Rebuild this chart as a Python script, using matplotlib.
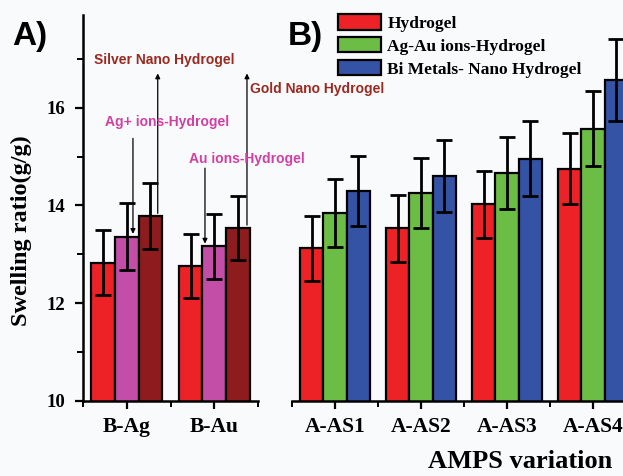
import matplotlib.pyplot as plt
import numpy as np

# panel A data
catsA = ['B-Ag', 'B-Au']
hydA = [12.83, 12.76]
hydA_err = [0.66, 0.65]
ionsA = [13.36, 13.16]
ionsA_err = [0.68, 0.66]
nanoA = [13.78, 13.54]
nanoA_err = [0.67, 0.66]

# panel B data
catsB = ['A-AS1', 'A-AS2', 'A-AS3', 'A-AS4']
hydB = [13.12, 13.53, 14.02, 14.75]
hydB_err = [0.66, 0.68, 0.68, 0.73]
ionsB = [13.84, 14.25, 14.66, 15.57]
ionsB_err = [0.70, 0.72, 0.74, 0.77]
bimB = [14.29, 14.60, 14.96, 16.56]
bimB_err = [0.72, 0.74, 0.76, 0.84]

bg = '#f9fafc'
red = '#ec2227'
pink = '#c34ea8'
dred = '#8e1b1d'
green = '#6cbd45'
blue = '#3553a5'
txt_brown = '#9a2a20'
txt_pink = '#d23fa3'

plt.rcParams['font.family'] = 'Liberation Serif'
plt.rcParams['font.weight'] = 'bold'

fig = plt.figure(figsize=(6.23, 4.76), dpi=100, facecolor=bg)
axB = fig.add_axes([292/623, 1-400.7/476, 344/623, (400.7-15)/476])
axA = fig.add_axes([83/623, 1-400.7/476, 175/623, (400.7-15)/476], sharey=axB)
axA.set_zorder(3)

w = 0.27
ekw = dict(elinewidth=2, capthick=2, ecolor='black')


def draw(ax, n, series, colors):
    x = np.arange(n) + 0.5
    bars = []
    for k, (vals, errs) in enumerate(series):
        b = ax.bar(x + (k - 1) * w, vals, w, yerr=errs, color=colors[k],
                   edgecolor='black', linewidth=1.6, capsize=6, error_kw=ekw)
        bars.append(b)
    ax.patch.set_visible(False)
    ax.set_xlim(0, n)
    ax.set_xticks(x)
    ax.set_xticks(np.arange(n + 1), minor=True)
    for s in ['top', 'right']:
        ax.spines[s].set_visible(False)
    ax.spines['bottom'].set_linewidth(1.8)
    ax.tick_params(axis='x', which='major', length=6, width=1.6, labelsize=15.5, pad=6)
    ax.tick_params(axis='x', which='minor', length=4, width=1.4)
    return bars


draw(axA, 2, [(hydA, hydA_err), (ionsA, ionsA_err), (nanoA, nanoA_err)], [red, pink, dred])
bars = draw(axB, 4, [(hydB, hydB_err), (ionsB, ionsB_err), (bimB, bimB_err)], [red, green, blue])
axA.set_xticklabels(catsA)
axB.set_xticklabels(catsB)

axA.set_ylim(10, 17.9)
axA.set_yticks([10, 12, 14, 16])
axA.set_yticks([11, 13, 15, 17], minor=True)
axA.spines['left'].set_linewidth(1.8)
axA.tick_params(axis='y', which='major', length=6, width=1.6, labelsize=13.5, pad=7)
axA.tick_params(axis='y', which='minor', length=4, width=1.4)
axA.set_ylabel('Swelling ratio(g/g)', fontsize=17.5, fontweight='bold')
axA.yaxis.set_label_coords(-0.29, 0.44)

axB.spines['left'].set_visible(False)
axB.tick_params(axis='y', which='both', left=False, labelleft=False)

# annotations in panel A
sans = 'Liberation Sans'
arr = dict(arrowstyle='-|>', color='black', lw=0.9, mutation_scale=7)
axA.annotate('', xy=(0.854, 16.76), xytext=(0.854, nanoA[0]), arrowprops=arr)
axA.annotate('', xy=(1.874, 16.76), xytext=(1.874, nanoA[1]), arrowprops=arr)
axA.annotate('', xy=(0.571, ionsA[0]), xytext=(0.571, 15.43), arrowprops=arr)
axA.annotate('', xy=(1.394, ionsA[1]), xytext=(1.394, 14.82), arrowprops=arr)
axA.text(0.93, 16.97, 'Silver Nano Hydrogel', family=sans, fontsize=10,
         fontweight='bold', color=txt_brown, ha='center', va='center')
axA.text(2.67, 16.39, 'Gold Nano Hydrogel', family=sans, fontsize=10,
         fontweight='bold', color=txt_brown, ha='center', va='center', clip_on=False)
axA.text(0.96, 15.70, 'Ag+ ions-Hydrogel', family=sans, fontsize=10,
         fontweight='bold', color=txt_pink, ha='center', va='center')
axA.text(1.875, 14.96, 'Au ions-Hydrogel', family=sans, fontsize=10,
         fontweight='bold', color=txt_pink, ha='center', va='center', clip_on=False)

fig.text(30/623, 1-37/476, 'A)', family=sans, fontsize=24, fontweight='bold', ha='center', va='center')
fig.text(305/623, 1-37/476, 'B)', family=sans, fontsize=24, fontweight='bold', ha='center', va='center')

fig.legend(bars, ['Hydrogel', 'Ag-Au ions-Hydrogel', 'Bi Metals- Nano Hydrogel'],
           loc='upper left', bbox_to_anchor=(338/623, 1-14/476), frameon=False,
           fontsize=12.5, handlelength=2.5, handleheight=1.0, handletextpad=0.35,
           labelspacing=0.3, borderpad=0, borderaxespad=0)

fig.text(520/623, 1-461/476, 'AMPS variation', fontsize=19, fontweight='bold',
         ha='center', va='center')

fig.savefig('out.png', dpi=100, facecolor=bg)
